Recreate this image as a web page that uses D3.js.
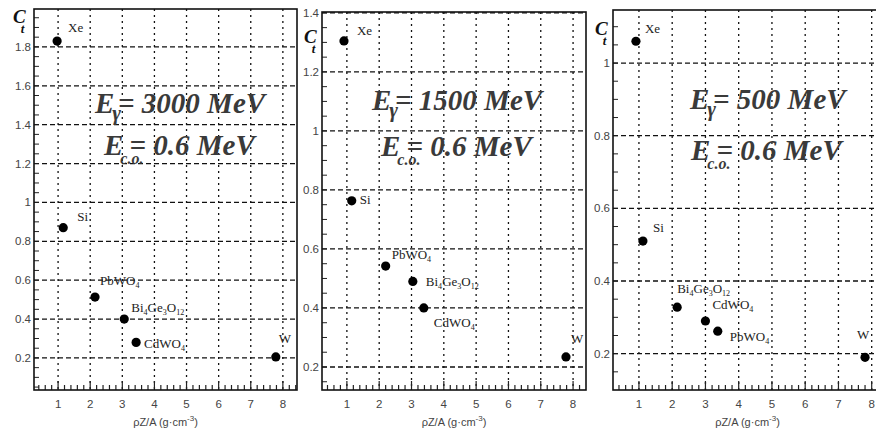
<!DOCTYPE html>
<html>
<head>
<meta charset="utf-8">
<script src="https://cdn.jsdelivr.net/npm/d3@7"></script>
<style>
	body { margin: 0; background: #fff; }
	svg { display: block; }
</style>
</head>
<body>
<div id="chart"></div>
<script>
'use strict';

// values
const xTickLabels = [1, 2, 3, 4, 5, 6, 7, 8];

const energies = ["3000", "1500", "500"];
const cutoff = "0.6";

const rhoZA_3000 = [0.97, 1.16, 2.15, 3.06, 3.43, 7.78];
const ct_3000    = [1.83, 0.87, 0.513, 0.40, 0.28, 0.205];
const names_3000 = ["Xe", "Si", "PbWO|4", "Bi|4Ge|3O|12", "CdWO|4", "W"];

const rhoZA_1500 = [0.91, 1.15, 2.20, 3.04, 3.38, 7.78];
const ct_1500    = [1.305, 0.763, 0.542, 0.49, 0.40, 0.234];
const names_1500 = ["Xe", "Si", "PbWO|4", "Bi|4Ge|3O|12", "CdWO|4", "W"];

const rhoZA_500 = [0.91, 1.12, 2.15, 3.00, 3.37, 7.80];
const ct_500    = [1.06, 0.51, 0.328, 0.29, 0.262, 0.19];
const names_500 = ["Xe", "Si", "Bi|4Ge|3O|12", "CdWO|4", "PbWO|4", "W"];

const yTicks_3000 = [0.2, 0.4, 0.6, 0.8, 1.0, 1.2, 1.4, 1.6, 1.8];
const yTicks_1500 = [0.2, 0.4, 0.6, 0.8, 1.0, 1.2, 1.4];
const yTicks_500  = [0.2, 0.4, 0.6, 0.8, 1.0];

// layout of each pad (pixels + axis ranges)
const pads = [
	{ left: 34, right: 297, top: 9, bottom: 390, xDom: [0.25, 8.44], yDom: [0.035, 1.995],
	  x: rhoZA_3000, y: ct_3000, names: names_3000, yTicks: yTicks_3000, energy: energies[0],
	  ct: [13, 23], e1: [95, 113], e2: [104, 155],
	  off: [[11, -9], [14, -7], [5, -12], [7, -7], [8, 6], [3, -14]] },
	{ left: 322, right: 586, top: 12, bottom: 390, xDom: [0.23, 8.40], yDom: [0.122, 1.403],
	  x: rhoZA_1500, y: ct_1500, names: names_1500, yTicks: yTicks_1500, energy: energies[1],
	  ct: [304, 43], e1: [372, 110], e2: [381, 156],
	  off: [[13, -6], [8, 3], [6, -7], [13, 5], [10, 19], [5, -14]] },
	{ left: 613, right: 885, top: 10, bottom: 390, xDom: [0.22, 8.40], yDom: [0.10, 1.146],
	  x: rhoZA_500, y: ct_500, names: names_500, yTicks: yTicks_500, energy: energies[2],
	  ct: [595, 35], e1: [690, 109], e2: [691, 160],
	  off: [[9, -8], [10, -9], [0, -14], [7, -12], [12, 10], [-8, -18]] }
];

const svg = d3.select("#chart")
	.append("svg")
		.attr("width", 876)
		.attr("height", 432);

const serif = "'Liberation Serif', 'Times New Roman', serif";
const sans = "'Liberation Sans', Arial, sans-serif";

// label text with "|" marking subscript pieces
function subLabel(sel, str, size) {
	str.split("|").forEach((part, i) => {
		if (i === 0) {
			sel.append("tspan").text(part);
			return;
		}
		// leading digits are subscripted, the rest normal
		const m = part.match(/^(\d+)(.*)$/);
		sel.append("tspan")
			.attr("font-size", size * 0.62)
			.attr("dy", 3)
			.text(m[1]);
		if (m[2]) {
			sel.append("tspan")
				.attr("font-size", size)
				.attr("dy", -3)
				.text(m[2]);
		} else {
			sel.append("tspan").attr("dy", -3).text("");
		}
	});
}

pads.forEach(p => {
	const xScale = d3.scaleLinear().domain(p.xDom).range([p.left, p.right]);
	const yScale = d3.scaleLinear().domain(p.yDom).range([p.bottom, p.top]);
	const g = svg.append("g");

	// grid
	g.selectAll("line.hgrid")
		.data(p.yTicks)
		.join("line")
			.attr("x1", p.left).attr("x2", p.right)
			.attr("y1", d => yScale(d)).attr("y2", d => yScale(d))
			.attr("stroke", "#111")
			.attr("stroke-width", 1.3)
			.attr("stroke-dasharray", "5,3");
	g.selectAll("line.vgrid")
		.data(xTickLabels)
		.join("line")
			.attr("x1", d => xScale(d)).attr("x2", d => xScale(d))
			.attr("y1", p.top).attr("y2", p.bottom)
			.attr("stroke", "#111")
			.attr("stroke-width", 1.3)
			.attr("stroke-dasharray", "2,4");

	// minor ticks (inside the frame)
	const yMinor = d3.range(0.05, p.yDom[1], 0.05).filter(v => v > p.yDom[0]);
	g.selectAll("line.ymin")
		.data(yMinor)
		.join("line")
			.attr("x1", p.left).attr("x2", p.left + 5)
			.attr("y1", d => yScale(d)).attr("y2", d => yScale(d))
			.attr("stroke", "#222");
	const xMinor = d3.range(0.4, p.xDom[1], 0.2);
	g.selectAll("line.xmin")
		.data(xMinor)
		.join("line")
			.attr("x1", d => xScale(d)).attr("x2", d => xScale(d))
			.attr("y1", p.bottom).attr("y2", d => p.bottom - (Math.abs(d - Math.round(d)) < 0.01 ? 9 : 5))
			.attr("stroke", "#222")
			.attr("stroke-width", 1.2);

	// frame
	g.append("rect")
		.attr("x", p.left).attr("y", p.top)
		.attr("width", p.right - p.left).attr("height", p.bottom - p.top)
		.attr("fill", "none")
		.attr("stroke", "#111")
		.attr("stroke-width", 1.6);

	// tick labels
	g.selectAll("text.ylab")
		.data(p.yTicks)
		.join("text")
			.attr("x", p.left - 3)
			.attr("y", d => yScale(d) + 4)
			.attr("text-anchor", "end")
			.attr("font-family", sans)
			.attr("font-size", 11.5)
			.attr("fill", "#444")
			.text(d => d3.format("~g")(d));
	g.selectAll("text.xlab")
		.data(xTickLabels)
		.join("text")
			.attr("x", d => xScale(d))
			.attr("y", 408)
			.attr("text-anchor", "middle")
			.attr("font-family", sans)
			.attr("font-size", 11.5)
			.attr("fill", "#444")
			.text(d => d);

	// x axis title
	const xt = g.append("text")
		.attr("x", (p.left + Math.min(p.right, 876)) / 2 + (p.right > 876 ? 3 : 0))
		.attr("y", 426)
		.attr("text-anchor", "middle")
		.attr("font-family", sans)
		.attr("font-size", 11)
		.attr("fill", "#444");
	xt.append("tspan").text("ρZ/A (g·cm");
	xt.append("tspan").attr("font-size", 8).attr("dy", -5).text("-3");
	xt.append("tspan").attr("dy", 5).text(")");

	// y axis title Ct
	const ct = g.append("text")
		.attr("x", p.ct[0]).attr("y", p.ct[1])
		.attr("font-family", serif)
		.attr("font-style", "italic")
		.attr("font-weight", "bold")
		.attr("font-size", 19)
		.attr("fill", "#111");
	ct.append("tspan").text("C");
	ct.append("tspan").attr("font-size", 13).attr("dx", -5).attr("dy", 10).text("t");

	// big annotations
	const e1 = g.append("text")
		.attr("x", p.e1[0]).attr("y", p.e1[1])
		.attr("font-family", serif)
		.attr("font-style", "italic")
		.attr("font-weight", "bold")
		.attr("font-size", 29)
		.attr("fill", "#3a3a3a");
	e1.append("tspan").text("E");
	e1.append("tspan").attr("font-size", 21).attr("dy", 7).attr("dx", -2).text("γ");
	e1.append("tspan").attr("dy", -7).attr("dx", -3).text("= " + p.energy + " MeV");

	const e2 = g.append("text")
		.attr("x", p.e2[0]).attr("y", p.e2[1])
		.attr("font-family", serif)
		.attr("font-style", "italic")
		.attr("font-weight", "bold")
		.attr("font-size", 29)
		.attr("fill", "#3a3a3a");
	e2.append("tspan").text("E");
	e2.append("tspan").attr("font-size", 16).attr("dy", 9).attr("dx", -3).text("c.o.");
	e2.append("tspan").attr("dy", -9).attr("dx", -14).text("= " + cutoff + " MeV");

	// points
	const pts = p.x.map((v, i) => ({ x: v, y: p.y[i], name: p.names[i], off: p.off[i] }));
	g.selectAll("circle.pt")
		.data(pts)
		.join("circle")
			.attr("cx", d => xScale(d.x))
			.attr("cy", d => yScale(d.y))
			.attr("r", 4.6)
			.attr("fill", "#000");

	g.selectAll("text.name")
		.data(pts)
		.join("text")
			.attr("x", d => xScale(d.x) + d.off[0])
			.attr("y", d => yScale(d.y) + d.off[1])
			.attr("font-family", serif)
			.attr("font-size", 13)
			.attr("fill", "#222")
			.each(function(d) { subLabel(d3.select(this), d.name, 13); });
});
</script>
</body>
</html>
